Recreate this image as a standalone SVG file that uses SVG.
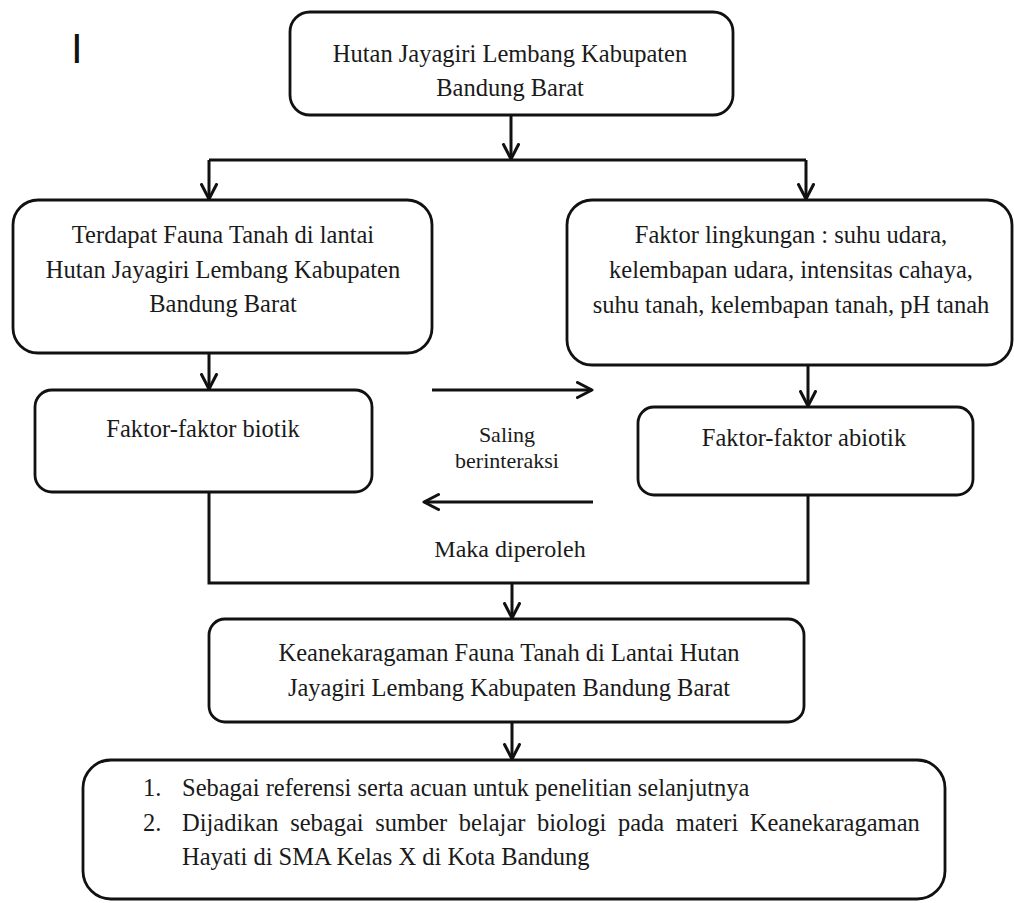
<svg xmlns="http://www.w3.org/2000/svg" width="1014" height="903" viewBox="0 0 1014 903">
<defs>
<style>
.box{fill:#fff;stroke:#111;stroke-width:2.8}
.t{font-family:"Liberation Serif","Times New Roman",serif;font-size:24.5px;fill:#1a1a1a}
.c{text-anchor:middle}
.ln{fill:none;stroke:#111;stroke-width:3;stroke-linejoin:miter}
.ar{fill:none;stroke:#111;stroke-width:3;marker-end:url(#chev)}
</style>
<marker id="chev" markerUnits="userSpaceOnUse" markerWidth="20" markerHeight="20" viewBox="0 0 20 20" refX="16" refY="9" orient="auto">
<path d="M1.5,1.5 L16,9 L1.5,16.5" fill="none" stroke="#111" stroke-width="3" stroke-linejoin="round" stroke-linecap="round"/>
</marker>
</defs>
<rect width="1014" height="903" fill="#fff"/>
<text x="71" y="63" style="font-family:'Liberation Sans',Arial,sans-serif;font-size:42px;fill:#111">I</text>

<g id="connectors">
<path class="ar" d="M511,115 V159"/>
<path class="ln" d="M209,160 H806"/>
<path class="ar" d="M209,160 V199"/>
<path class="ar" d="M806,160 V199"/>
<path class="ar" d="M209,353 V389"/>
<path class="ar" d="M808,365 V406"/>
<path class="ar" d="M432,390 H592"/>
<path class="ar" d="M593,502 H424"/>
<path class="ln" d="M209,492 V583 H808 V495"/>
<path class="ar" d="M512,583 V618"/>
<path class="ar" d="M512,722 V759"/>
</g>

<g id="n-top">
<rect class="box" x="290" y="12" width="443" height="103" rx="20"/>
<text class="t c" x="510" y="62">Hutan Jayagiri Lembang Kabupaten</text>
<text class="t c" x="510" y="96">Bandung Barat</text>
</g>

<g id="n-fauna">
<rect class="box" x="13" y="200" width="419" height="153" rx="25"/>
<text class="t c" x="223" y="243">Terdapat Fauna Tanah di lantai</text>
<text class="t c" x="223" y="278">Hutan Jayagiri Lembang Kabupaten</text>
<text class="t c" x="223" y="312">Bandung Barat</text>
</g>

<g id="n-lingkungan">
<rect class="box" x="567" y="200" width="445" height="165" rx="25"/>
<text class="t c" x="791" y="243">Faktor lingkungan : suhu udara,</text>
<text class="t c" x="791" y="278">kelembapan udara, intensitas cahaya,</text>
<text class="t c" x="791" y="313">suhu tanah, kelembapan tanah, pH tanah</text>
</g>

<g id="n-biotik">
<rect class="box" x="35" y="390" width="337" height="102" rx="17"/>
<text class="t c" x="203" y="437">Faktor-faktor biotik</text>
</g>

<g id="n-abiotik">
<rect class="box" x="638" y="407" width="335" height="88" rx="16"/>
<text class="t c" x="804" y="446">Faktor-faktor abiotik</text>
</g>

<g id="lbl-saling">
<text class="t c" x="507" y="442" style="font-size:22px">Saling</text>
<text class="t c" x="507" y="468" style="font-size:22px">berinteraksi</text>
</g>

<g id="lbl-maka">
<text class="t c" x="510" y="557" style="font-size:24px">Maka diperoleh</text>
</g>

<g id="n-keanekaragaman">
<rect class="box" x="209" y="619" width="595" height="103" rx="16"/>
<text class="t c" x="509" y="661">Keanekaragaman Fauna Tanah di Lantai Hutan</text>
<text class="t c" x="509" y="696">Jayagiri Lembang Kabupaten Bandung Barat</text>
</g>

<g id="n-manfaat">
<rect class="box" x="83" y="760" width="862" height="139" rx="28"/>
<text class="t" x="143" y="796">1.</text>
<text class="t" x="182" y="796">Sebagai referensi serta acuan untuk penelitian selanjutnya</text>
<text class="t" x="143" y="831">2.</text>
<text class="t" x="182" y="831" word-spacing="5.4">Dijadikan sebagai sumber belajar biologi pada materi Keanekaragaman</text>
<text class="t" x="182" y="865">Hayati di SMA Kelas X di Kota Bandung</text>
</g>
</svg>
